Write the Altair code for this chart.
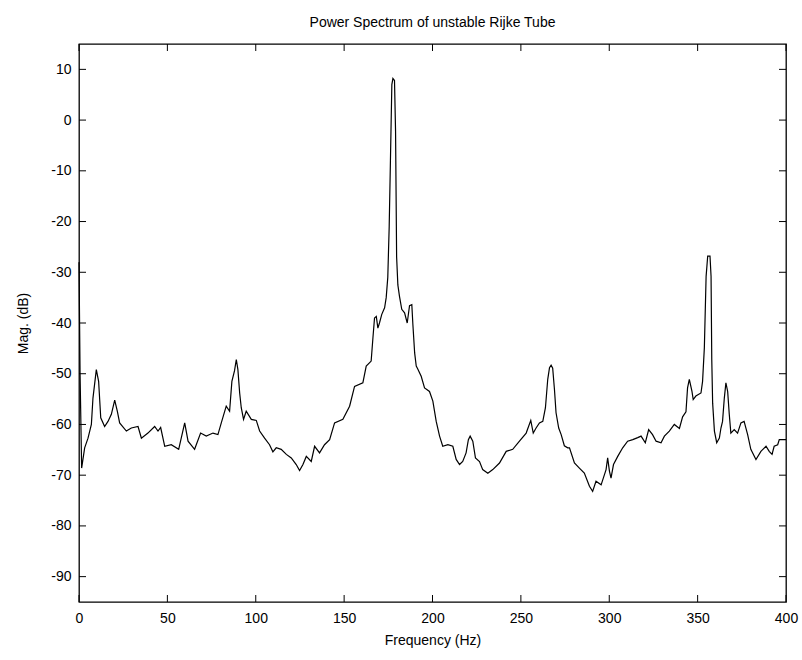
import altair as alt
import pandas as pd

freq = [0, 0.6, 1.5, 3.2, 5.1, 7.0, 7.9, 9.8, 11.1, 12.3, 14.5, 16.4, 18.3, 20.2, 21.7, 23.0,
        26.8, 29.6, 33.4, 35.3, 39.0, 42.8, 44.7, 46.2, 48.5, 52.2, 56.4, 59.8, 61.7, 65.4,
        68.8, 72.0, 75.8, 78.6, 80.5, 83.3, 85.2, 86.5, 88.0, 89.0, 89.9, 90.9, 91.8, 93.1,
        94.6, 97.5, 100.3, 102.2, 105.0, 107.8, 109.7, 111.6, 114.4, 117.3, 120.1, 122.9,
        124.8, 126.7, 128.6, 131.4, 133.3, 136.1, 138.9, 141.8, 144.6, 149.3, 153.1, 155.9,
        160.6, 162.5, 165.3, 166.3, 167.2, 168.2, 169.1, 170.0, 171.3, 172.9, 173.8, 174.7,
        175.5, 176.2, 177.0, 177.6, 178.5, 179.1, 179.7, 180.4, 181.3, 182.6, 184.2, 185.7,
        187.0, 188.3, 188.9, 189.9, 190.8, 191.6, 193.6, 195.5, 198.3, 200.2, 202.1, 204.0,
        205.8, 208.7, 211.5, 213.4, 215.3, 217.1, 219.0, 220.3, 221.3, 222.8, 224.3, 226.6,
        228.4, 231.3, 234.1, 237.9, 241.7, 245.4, 249.2, 253.0, 255.6, 257.0, 258.6, 260.5,
        262.4, 263.9, 265.2, 266.2, 267.1, 268.0, 269.0, 269.9, 271.4, 272.8, 274.6, 276.5,
        277.5, 280.3, 283.1, 285.9, 288.8, 290.6, 292.5, 295.4, 298.2, 299.1, 300.1, 301.0,
        302.4, 304.8, 307.6, 310.4, 313.3, 316.1, 318.0, 320.4, 322.3, 324.5, 326.5, 329.3,
        331.2, 334.0, 336.8, 339.7, 341.5, 343.4, 344.3, 345.3, 346.8, 347.5, 349.0, 351.9,
        352.8, 353.8, 354.8, 355.7, 357.0, 357.6, 358.0, 358.5, 359.5, 360.8, 362.3, 363.2,
        364.1, 365.1, 366.0, 367.0, 367.9, 368.8, 370.7, 372.6, 374.5, 376.3, 378.3, 380.1,
        383.0, 385.8, 388.7, 390.5, 392.1, 393.3, 395.3, 396.2, 398.1, 400.0]

mag = [-28.0, -50.0, -68.6, -64.6, -62.7, -60.0, -54.8, -49.2, -51.5, -58.7, -60.4, -59.4, -58.0, -55.2, -57.4, -59.7,
       -61.3, -60.7, -60.4, -62.7, -61.7, -60.4, -61.3, -60.6, -64.3, -64.0, -64.9, -59.7, -63.3, -64.9,
       -61.7, -62.3, -61.7, -62.0, -59.7, -56.4, -57.4, -51.5, -49.4, -47.2, -49.2, -53.8, -56.7, -59.0,
       -57.4, -59.0, -59.2, -61.3, -62.7, -64.0, -65.4, -64.6, -64.9, -65.9, -66.6, -67.9,
       -69.1, -67.9, -66.3, -67.3, -64.3, -65.6, -64.0, -63.0, -59.7, -59.0, -56.4, -52.5,
       -51.8, -48.5, -47.5, -42.9, -39.0, -38.7, -41.0, -40.0, -38.3, -37.0, -35.0, -31.0,
       -21.0, -8.0, 7.0, 8.2, 7.8, -2.2, -27.0, -32.5, -34.7, -37.3, -38.0, -40.0,
       -36.6, -36.4, -40.3, -45.9, -48.5, -49.0, -50.5, -52.8, -53.5, -55.4, -59.4, -62.3,
       -64.3, -64.0, -64.3, -66.9, -67.9, -67.3, -65.6, -63.0, -62.3, -63.3, -66.6, -67.3,
       -68.9, -69.6, -68.9, -67.6, -65.3, -64.9, -63.3, -61.7, -59.2, -61.7, -60.7, -59.7,
       -59.4, -56.7, -51.1, -48.8, -48.3, -48.9, -53.1, -57.7, -60.7, -62.0, -64.2, -64.6,
       -64.6, -67.6, -68.6, -69.6, -72.2, -73.2, -71.2, -71.9, -68.9, -66.6, -69.2, -70.6,
       -67.9, -66.3, -64.6, -63.3, -63.0, -62.6, -62.3, -63.6, -61.0, -62.0, -63.3, -63.6,
       -62.3, -61.3, -60.0, -60.8, -58.5, -57.5, -52.8, -51.1, -53.5, -55.1, -54.4, -53.8,
       -51.5, -44.9, -30.8, -26.8, -26.8, -30.8, -47.2, -55.8, -61.3, -63.6, -62.7, -60.7,
       -59.4, -54.8, -51.8, -53.5, -58.0, -61.7, -61.0, -61.7, -59.7, -59.4, -62.0, -64.9,
       -66.9, -65.3, -64.3, -65.3, -65.9, -64.3, -64.0, -63.0, -63.0, -63.0]

x_ticks = [0, 50, 100, 150, 200, 250, 300, 350, 400]
y_ticks = [-90, -80, -70, -60, -50, -40, -30, -20, -10, 0, 10]

W, H = 707, 558
TL = 7
FONT = "Liberation Sans"

df = pd.DataFrame({"freq": freq, "mag": mag})
xt = pd.DataFrame({"freq": x_ticks})
yt = pd.DataFrame({"mag": y_ticks})

xscale = alt.Scale(domain=[0, 400], nice=False, zero=False)
yscale = alt.Scale(domain=[-95, 15], nice=False, zero=False)

xaxis = alt.Axis(values=x_ticks, ticks=False, domain=False, grid=False, labelFlush=False,
                 labelPadding=9, title="Frequency (Hz)", titlePadding=8,
                 labelExpr="'' + datum.value")
yaxis = alt.Axis(values=y_ticks, ticks=False, domain=False, grid=False, labelFlush=False,
                 labelPadding=8, title="Mag. (dB)", titlePadding=20,
                 labelExpr="'' + datum.value")

X = alt.X("freq:Q", scale=xscale, axis=xaxis)
Y = alt.Y("mag:Q", scale=yscale, axis=yaxis)

line = alt.Chart(df).mark_line(color="black", strokeWidth=1.2, interpolate="linear").encode(x=X, y=Y)

xb = alt.Chart(xt).mark_rule(color="black", strokeWidth=1).encode(
    x=X, y=alt.value(H), y2=alt.value(H - TL))
xtp = alt.Chart(xt).mark_rule(color="black", strokeWidth=1).encode(
    x=X, y=alt.value(0), y2=alt.value(TL))
yl = alt.Chart(yt).mark_rule(color="black", strokeWidth=1).encode(
    y=Y, x=alt.value(0), x2=alt.value(TL))
yr = alt.Chart(yt).mark_rule(color="black", strokeWidth=1).encode(
    y=Y, x=alt.value(W), x2=alt.value(W - TL))

chart = alt.layer(line, xb, xtp, yl, yr).properties(
    width=W, height=H,
    title=alt.TitleParams("Power Spectrum of unstable Rijke Tube", font=FONT, fontSize=14,
                          fontWeight="normal", color="black", offset=14),
    autosize=alt.AutoSizeParams(type="none"),
    padding={"left": 79, "top": 44, "right": 16, "bottom": 58},
    background="white",
).configure_view(stroke="black", strokeWidth=1.3).configure_axis(
    labelFont=FONT, labelFontSize=14, labelColor="black",
    titleFont=FONT, titleFontSize=14, titleFontWeight="normal", titleColor="black",
)

chart.save("out.html", embed_options={"renderer": "svg", "actions": False})
